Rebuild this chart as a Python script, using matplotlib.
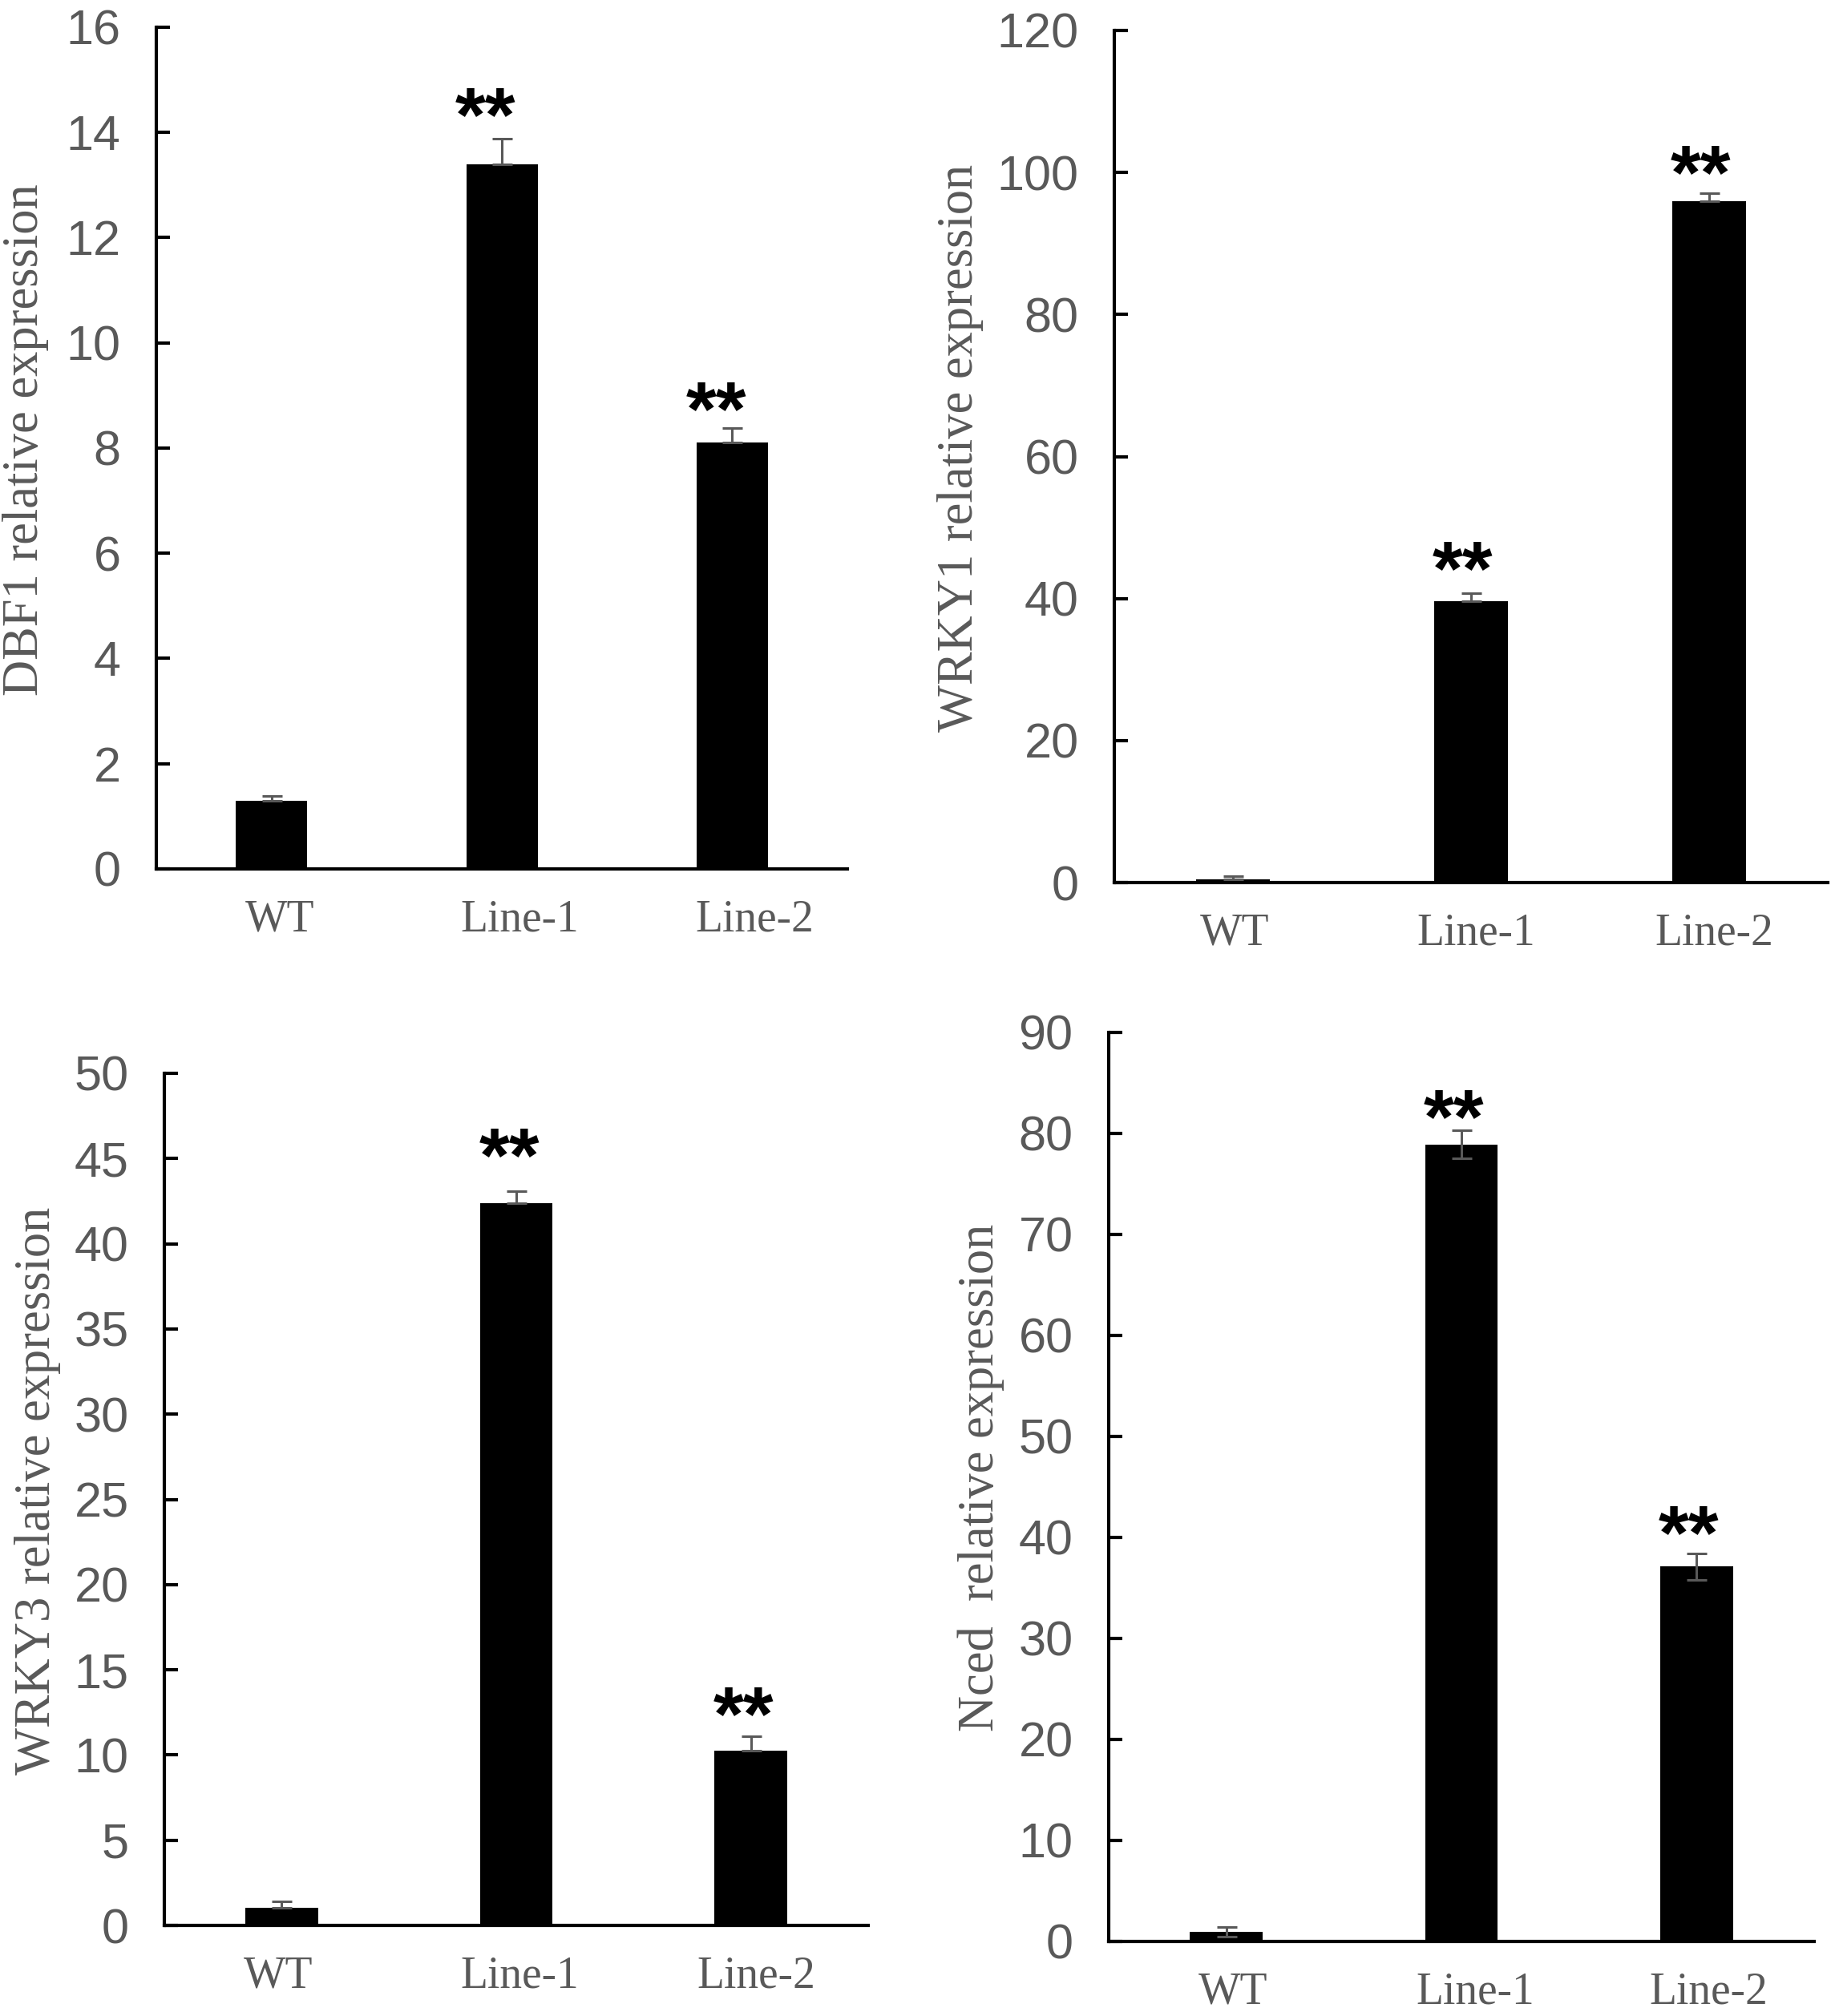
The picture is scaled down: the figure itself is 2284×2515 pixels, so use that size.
import matplotlib
matplotlib.use("Agg")
import matplotlib.pyplot as plt
from matplotlib.transforms import offset_copy

# categories shared by all four panels
lines = ["WT", "Line-1", "Line-2"]

# DBF1
dbf1_mean = [1.30, 13.40, 8.10]
dbf1_err = [0.09, 0.48, 0.28]
dbf1_star = [None, 14.7, 9.1]

# WRKY1
wrky1_mean = [0.5, 39.6, 96.0]
wrky1_err = [0.4, 1.2, 1.1]
wrky1_star = [None, 46.9, 102.6]

# WRKY3
wrky3_mean = [1.06, 42.4, 10.25]
wrky3_err = [0.34, 0.7, 0.85]
wrky3_star = [None, 46.3, 13.5]

# Nced
nced_mean = [0.95, 78.9, 37.1]
nced_err = [0.5, 1.4, 1.3]
nced_star = [None, 83.5, 42.3]

GREY = "#595959"
SANS = "Liberation Sans"
SERIF = "Liberation Serif"

fig = plt.figure(figsize=(22.84, 25.15), dpi=100)

# rect, mean, err, stars, ymax, step, ylabel, label x, both-sided error,
# x-label nudge (px), star nudge (category units)
panels = [
    ([0.0854, 0.5690, 0.3774, 0.4175], dbf1_mean, dbf1_err, dbf1_star, 16, 2,
     "DBF1 relative expression", -0.189, False, [10, 22, 28], -0.07),
    ([0.6086, 0.5622, 0.3897, 0.4227], wrky1_mean, wrky1_err, wrky1_star, 120, 20,
     "WRKY1 relative expression", -0.216, False, [2, 6, 7], -0.035),
    ([0.0898, 0.0449, 0.3844, 0.4227], wrky3_mean, wrky3_err, wrky3_star, 50, 5,
     "WRKY3 relative expression", -0.180, False, [-4, 4, 7], -0.03),
    ([0.6055, 0.0370, 0.3853, 0.4509], nced_mean, nced_err, nced_star, 90, 10,
     "Nced  relative expression", -0.181, True, [8, 17, 15], -0.033),
]

x = list(range(len(lines)))
star_fs = 70

for (rect, mean, err, stars, ymax, step, ylabel, lab_x, both,
     xl_nudge, star_dx) in panels:
    ax = fig.add_axes(rect)
    ax.bar(x, mean, width=0.31, color="black", zorder=2)
    if both:
        yerr = [err, err]
    else:
        yerr = [[0] * len(err), err]
    ax.errorbar(x, mean, yerr=yerr, fmt="none", ecolor=GREY,
                elinewidth=2.2, capsize=9, capthick=2.2, zorder=3)

    for xi, s in zip(x, stars):
        if s is None:
            continue
        ax.annotate("**", xy=(xi + star_dx, s), xytext=(0, -0.58 * star_fs),
                    textcoords="offset points", ha="center", va="baseline",
                    fontsize=star_fs, fontweight="bold", family=SANS,
                    color="black")

    ax.set_xlim(-0.5, 2.5)
    ax.set_ylim(0, ymax)
    ax.set_yticks(range(0, ymax + 1, step))
    ax.set_xticks(x)
    ax.set_xticklabels(lines)

    for side in ("top", "right"):
        ax.spines[side].set_visible(False)
    for side in ("left", "bottom"):
        ax.spines[side].set_linewidth(3)
        ax.spines[side].set_color("black")

    ax.tick_params(axis="y", direction="in", length=12, width=3, pad=32,
                   labelsize=44, labelcolor=GREY, color="black")
    ax.tick_params(axis="x", length=0, pad=27, labelsize=40, labelcolor=GREY)
    for lbl in ax.get_yticklabels():
        lbl.set_fontfamily(SANS)
    for lbl, dx in zip(ax.get_xticklabels(), xl_nudge):
        lbl.set_fontfamily(SERIF)
        lbl.set_transform(offset_copy(lbl.get_transform(), fig=fig,
                                      x=dx, y=0, units="dots"))

    ax.set_ylabel(ylabel, fontsize=45, family=SERIF, color=GREY,
                  va="center", ha="center")
    ax.yaxis.set_label_coords(lab_x, 0.51)

fig.savefig("out.png", dpi=100, facecolor="white")
